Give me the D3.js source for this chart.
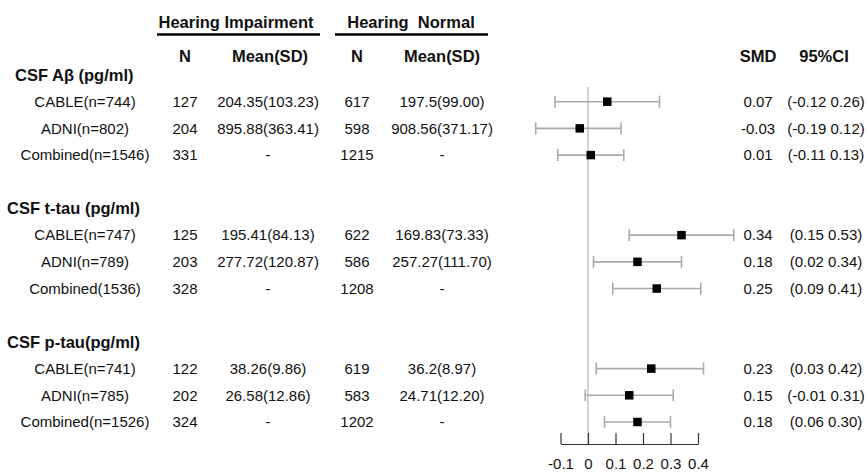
<!DOCTYPE html>
<html>
<head>
<meta charset="utf-8">
<script src="https://cdn.jsdelivr.net/npm/d3@7"></script>
<style>
  html, body { margin: 0; padding: 0; background: #fff; }
  svg { display: block; font-family: "Liberation Sans", Arial, sans-serif; }
</style>
</head>
<body>
<svg id="chart" width="868" height="473"></svg>
<script>
// ---- data ----
const groups = ["CSF A\u03b2 (pg/ml)", "CSF t-tau (pg/ml)", "CSF p-tau(pg/ml)"];
const studies = ["CABLE(n=744)", "ADNI(n=802)", "Combined(n=1546)",
                 "CABLE(n=747)", "ADNI(n=789)", "Combined(1536)",
                 "CABLE(n=741)", "ADNI(n=785)", "Combined(n=1526)"];
const studyGroup = [0, 0, 0, 1, 1, 1, 2, 2, 2];
const nHI = [127, 204, 331, 125, 203, 328, 122, 202, 324];
const meanHI = ["204.35(103.23)", "895.88(363.41)", "-", "195.41(84.13)", "277.72(120.87)", "-",
                "38.26(9.86)", "26.58(12.86)", "-"];
const nHN = [617, 598, 1215, 622, 586, 1208, 619, 583, 1202];
const meanHN = ["197.5(99.00)", "908.56(371.17)", "-", "169.83(73.33)", "257.27(111.70)", "-",
                "36.2(8.97)", "24.71(12.20)", "-"];
const smd = [0.07, -0.03, 0.01, 0.34, 0.18, 0.25, 0.23, 0.15, 0.18];
const ciLow = [-0.12, -0.19, -0.11, 0.15, 0.02, 0.09, 0.03, -0.01, 0.06];
const ciHigh = [0.26, 0.12, 0.13, 0.53, 0.34, 0.41, 0.42, 0.31, 0.30];
const axisTicks = [-0.1, 0, 0.1, 0.2, 0.3, 0.4];
const axisLabels = ["-0.1", "0", "0.1", "0.2", "0.3", "0.4"];

// ---- layout ----
const svg = d3.select("#chart");
const txt = "#111";
const fontData = 15, fontHead = 16.5;

// row slots: header, 3 studies, gap ...
const slots = [];
groups.forEach((g, gi) => {
  slots.push("h" + gi);
  studies.forEach((s, si) => { if (studyGroup[si] === gi) slots.push("s" + si); });
  if (gi < groups.length - 1) slots.push("gap" + gi);
});
const y = d3.scalePoint().domain(slots).range([75, 422]);
const x = d3.scaleLinear().domain([-0.1, 0.4]).range([560.5, 698]);

const colStudy = 85, colNHI = 185, colMeanHI = 268, colNHN = 357, colMeanHN = 442,
      colSMD = 758, colCI = 826;

// ---- column headers ----
const head = svg.append("g").attr("fill", txt).attr("font-weight", "bold")
  .attr("font-size", fontHead).attr("text-anchor", "middle");
head.append("text").attr("x", 236).attr("y", 22).attr("dy", "0.35em").text("Hearing Impairment");
head.append("text").attr("x", 411).attr("y", 22).attr("dy", "0.35em")
  .style("white-space", "pre").text("Hearing  Normal");
svg.append("line").attr("x1", 157).attr("x2", 320).attr("y1", 34.5).attr("y2", 34.5)
  .attr("stroke", "#000").attr("stroke-width", 2.5);
svg.append("line").attr("x1", 335).attr("x2", 488).attr("y1", 34.5).attr("y2", 34.5)
  .attr("stroke", "#000").attr("stroke-width", 2.5);
[[colNHI, "N"], [270, "Mean(SD)"], [colNHN, "N"], [442, "Mean(SD)"], [colSMD, "SMD"], [824, "95%CI"]]
  .forEach(([cx, t]) => head.append("text").attr("x", cx).attr("y", 56).attr("dy", "0.35em").text(t));

// ---- group headers ----
svg.append("g").selectAll("text").data(groups).join("text")
  .attr("x", (d, i) => i === 0 ? 15 : 7)
  .attr("y", (d, i) => y("h" + i)).attr("dy", "0.35em")
  .attr("font-weight", "bold").attr("font-size", fontHead).attr("fill", txt)
  .text(d => d);

// ---- study rows ----
const idx = d3.range(studies.length);
const rows = svg.append("g").attr("font-size", fontData).attr("fill", txt).attr("text-anchor", "middle");
const cols = [
  [colStudy, i => studies[i]],
  [colNHI, i => nHI[i]],
  [colMeanHI, i => meanHI[i]],
  [colNHN, i => nHN[i]],
  [colMeanHN, i => meanHN[i]],
  [colSMD, i => smd[i].toFixed(2)],
  [colCI, i => "(" + ciLow[i].toFixed(2) + " " + ciHigh[i].toFixed(2) + ")"]
];
cols.forEach(([cx, f]) => {
  rows.append("g").selectAll("text").data(idx).join("text")
    .attr("x", cx).attr("y", i => y("s" + i)).attr("dy", "0.35em").text(f);
});

// ---- zero line ----
svg.append("line").attr("x1", x(0)).attr("x2", x(0)).attr("y1", 87).attr("y2", 444)
  .attr("stroke", "#c4c4c4").attr("stroke-width", 1.5);

// ---- CIs ----
const ci = svg.append("g").attr("stroke", "#aaaaaa").attr("stroke-width", 1.6);
ci.selectAll("line.ci").data(idx).join("line").attr("class", "ci")
  .attr("x1", i => x(ciLow[i])).attr("x2", i => x(ciHigh[i]))
  .attr("y1", i => y("s" + i)).attr("y2", i => y("s" + i));
ci.selectAll("line.capL").data(idx).join("line").attr("class", "capL")
  .attr("x1", i => x(ciLow[i])).attr("x2", i => x(ciLow[i]))
  .attr("y1", i => y("s" + i) - 6).attr("y2", i => y("s" + i) + 6);
ci.selectAll("line.capR").data(idx).join("line").attr("class", "capR")
  .attr("x1", i => x(ciHigh[i])).attr("x2", i => x(ciHigh[i]))
  .attr("y1", i => y("s" + i) - 6).attr("y2", i => y("s" + i) + 6);

// ---- squares ----
const sq = 8.5;
svg.append("g").selectAll("rect").data(idx).join("rect")
  .attr("x", i => x(smd[i]) - sq / 2).attr("y", i => y("s" + i) - sq / 2)
  .attr("width", sq).attr("height", sq).attr("fill", "#000");

// ---- axis ----
const axis = d3.axisBottom(x).tickValues(axisTicks)
  .tickFormat((d, i) => axisLabels[i])
  .tickSizeInner(-11).tickSizeOuter(0).tickPadding(14);
const ag = svg.append("g").attr("transform", "translate(0,444)").call(axis);
ag.select(".domain").attr("stroke", "#333").attr("stroke-width", 1.2);
ag.selectAll(".tick line").attr("stroke", "#333").attr("stroke-width", 1.2);
ag.selectAll(".tick text").attr("font-size", fontData).attr("fill", txt)
  .attr("font-family", "\"Liberation Sans\", Arial, sans-serif");
</script>
</body>
</html>
